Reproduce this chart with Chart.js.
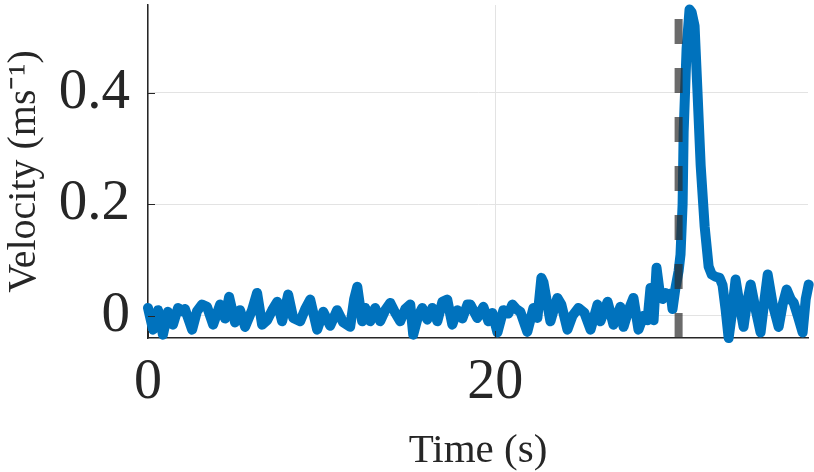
<!DOCTYPE html>
<html>
<head>
<meta charset="utf-8">
<script src="https://cdn.jsdelivr.net/npm/chart.js@4/dist/chart.umd.min.js"></script>
<style>
html,body{margin:0;padding:0;background:#fff;}
#c{display:block;}
</style>
</head>
<body>
<canvas id="c" width="814" height="472"></canvas>
<script>
// ---- data ----
const timeS = [
0.00,0.29,0.58,0.86,1.15,1.44,1.73,1.96,2.13,2.54,2.82,3.11,3.40,3.75,4.15,4.44,4.67,5.01,5.30,5.59,
5.99,6.28,6.57,6.86,7.15,7.44,7.72,8.07,8.36,8.76,9.05,9.34,9.74,10.09,10.49,10.89,11.24,11.64,11.87,12.05,
12.33,12.51,12.80,13.08,13.37,13.66,13.95,14.24,14.52,14.81,15.10,15.27,15.56,15.79,16.08,16.37,16.66,16.95,17.23,17.52,
17.81,18.10,18.39,18.56,18.96,19.31,19.60,19.83,20.12,20.46,20.75,20.98,21.21,21.44,21.84,22.19,22.42,22.65,22.77,22.94,
23.17,23.40,23.57,23.80,24.15,24.44,24.78,25.13,25.48,25.88,26.05,26.46,26.80,27.20,27.38,27.67,27.95,28.24,28.53,28.76,
28.93,29.11,29.28,29.45,29.63,29.80,29.97,30.09,30.20,30.37,30.55,30.66,30.78,30.84,31.01,31.18,31.30,31.47,31.64,31.82,
32.05,32.28,32.46,32.68,32.91,33.08,33.26,33.43,33.60,33.83,34.06,34.29,34.47,34.70,34.99,35.27,35.50,35.68,35.97,36.31,
36.54,36.77,37.00,37.18,37.41,37.69,37.87,38.04
];
const velocity = [
0.014,-0.025,0.010,-0.034,0.007,-0.016,0.014,0.008,0.012,-0.025,0.008,0.020,0.016,-0.016,0.020,-0.005,0.034,-0.012,0.010,-0.020,
0.010,0.041,-0.016,-0.008,0.010,0.025,-0.010,0.038,-0.004,-0.010,0.012,0.029,-0.025,0.007,-0.018,0.010,-0.012,-0.020,0.030,0.052,
-0.010,0.014,-0.010,0.014,-0.010,0.010,0.023,0.005,-0.010,0.012,0.020,-0.034,0.000,0.014,-0.007,0.014,-0.010,0.025,0.029,-0.016,
0.010,-0.005,0.020,0.020,-0.004,0.016,-0.010,0.005,-0.030,0.010,0.004,0.020,0.012,0.007,-0.029,0.014,-0.004,0.068,0.060,0.030,
-0.010,0.015,0.032,0.020,-0.025,0.000,0.014,0.005,-0.025,0.020,-0.010,0.025,-0.016,0.016,-0.020,0.010,0.032,-0.025,0.000,-0.008,
0.050,-0.008,0.086,0.045,0.030,0.041,0.036,0.040,0.012,0.050,0.080,0.110,0.200,0.330,0.480,0.550,0.545,0.520,0.400,0.270,
0.160,0.088,0.074,0.070,0.068,0.055,0.010,-0.040,0.000,0.065,0.020,-0.020,0.020,0.056,0.010,-0.030,0.030,0.074,0.020,-0.020,
0.020,0.047,0.030,0.023,0.000,-0.030,0.030,0.056
];
const eventTime = 30.55;
const xTicks = [0, 20];
const yTicks = [0, 0.2, 0.4];
const xRange = [0, 38];
const yRange = [-0.04, 0.558];

const AXIS = '#262626';
const FONT = "'Liberation Serif', 'Times New Roman', serif";

const series = timeS.map((t, i) => ({x: t, y: velocity[i]}));
const eventLine = [{x: eventTime, y: yRange[0]}, {x: eventTime, y: yRange[1]}];

const innerTicks = {
  id: 'innerTicks',
  afterDatasetsDraw(chart) {
    const ctx = chart.ctx, xs = chart.scales.x, ys = chart.scales.y;
    ctx.save();
    ctx.strokeStyle = AXIS;
    ctx.lineWidth = 1;
    ctx.beginPath();
    yTicks.forEach(v => {
      const p = Math.round(ys.getPixelForValue(v)) + 0.5;
      ctx.moveTo(xs.left, p); ctx.lineTo(xs.left + 7, p);
    });
    xTicks.forEach(v => {
      const p = Math.round(xs.getPixelForValue(v)) + 0.5;
      ctx.moveTo(p, ys.bottom); ctx.lineTo(p, ys.bottom - 7);
    });
    ctx.stroke();
    ctx.restore();
  }
};

new Chart(document.getElementById('c'), {
  type: 'line',
  data: {
    datasets: [
      {
        label: 'Event',
        data: eventLine,
        borderColor: 'rgba(44,44,44,0.7)',
        borderWidth: 8,
        borderDash: [25, 24],
        borderCapStyle: 'butt',
        pointRadius: 0,
        order: 0
      },
      {
        label: 'Velocity',
        data: series,
        borderColor: '#0072BD',
        borderWidth: 10,
        borderJoinStyle: 'round',
        borderCapStyle: 'round',
        pointRadius: 0,
        tension: 0,
        clip: false,
        order: 1
      }
    ]
  },
  options: {
    responsive: false,
    animation: false,
    events: [],
    layout: {padding: {left: 0, right: 6, top: 5, bottom: 0}},
    plugins: {legend: {display: false}, tooltip: {enabled: false}},
    scales: {
      x: {
        type: 'linear',
        min: xRange[0], max: xRange[1],
        afterBuildTicks: s => { s.ticks = xTicks.map(v => ({value: v})); },
        afterFit: s => { s.height = 134; s.paddingLeft = 0; s.paddingRight = 0; },
        grid: {color: '#e3e3e3', lineWidth: 1, drawTicks: false},
        border: {display: true, color: AXIS, width: 1.5},
        ticks: {
          font: {family: FONT, size: 56},
          color: AXIS, padding: 12, maxRotation: 0,
          callback: v => String(v)
        },
        title: {
          display: true, text: 'Time (s)',
          font: {family: FONT, size: 41, lineHeight: 1.0}, color: AXIS,
          padding: {top: 0, bottom: 0}
        }
      },
      y: {
        type: 'linear',
        min: yRange[0], max: yRange[1],
        afterBuildTicks: s => { s.ticks = yTicks.map(v => ({value: v})); },
        afterFit: s => { s.width = 148; s.paddingTop = 0; s.paddingBottom = 0; },
        grid: {color: '#e3e3e3', lineWidth: 1, drawTicks: false},
        border: {display: true, color: AXIS, width: 1.5},
        ticks: {
          font: {family: FONT, size: 57},
          color: AXIS, padding: 18,
          callback: v => (v === 0 ? '0' : String(v))
        },
        title: {
          display: true, text: 'Velocity (ms\u207B\u00B9)',
          font: {family: FONT, size: 40}, color: AXIS,
          padding: {top: 0, bottom: 0}
        }
      }
    }
  },
  plugins: [innerTicks]
});
</script>
</body>
</html>
